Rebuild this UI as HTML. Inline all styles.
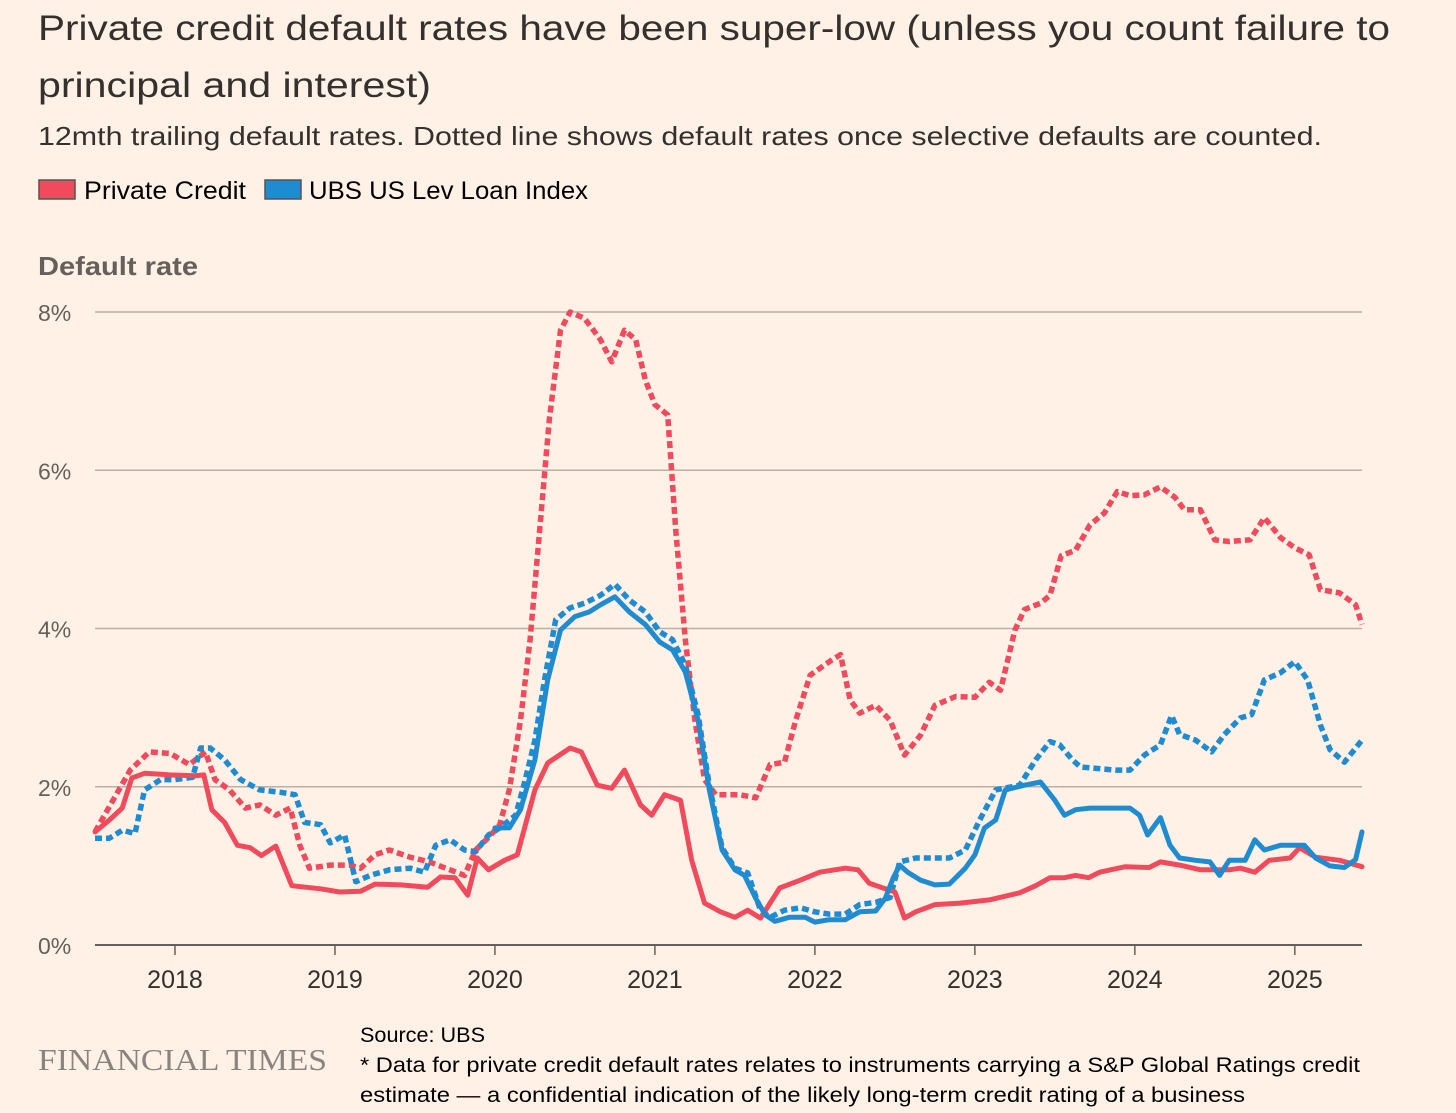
<!DOCTYPE html>
<html><head><meta charset="utf-8"><style>
body{margin:0;background:#fff1e5;width:1456px;height:1113px;overflow:hidden;font-family:"Liberation Sans",sans-serif;color:#33302e}
svg{position:absolute;left:0;top:0}
</style></head><body>
<svg width="1456" height="1113" id="svg">
<text x="38" y="40" font-size="35" fill="#33302e" textLength="1352" lengthAdjust="spacingAndGlyphs">Private credit default rates have been super-low (unless you count failure to</text>
<text x="38" y="97" font-size="35" fill="#33302e" textLength="393" lengthAdjust="spacingAndGlyphs">principal and interest)</text>
<text x="38" y="145" font-size="26" fill="#33302e" textLength="1284" lengthAdjust="spacingAndGlyphs">12mth trailing default rates. Dotted line shows default rates once selective defaults are counted.</text>
<g>
<rect x="39" y="180" width="36" height="19" fill="#f04a5c" stroke="#555" stroke-width="1.5"/>
<text x="84" y="199" font-size="25" textLength="162" lengthAdjust="spacingAndGlyphs">Private Credit</text>
<rect x="265" y="180" width="36" height="19" fill="#1f8bd0" stroke="#555" stroke-width="1.5"/>
<text x="309" y="199" font-size="25" textLength="279" lengthAdjust="spacingAndGlyphs">UBS US Lev Loan Index</text>
</g>
<text x="38" y="275" font-size="26" font-weight="bold" fill="#66605c" textLength="160" lengthAdjust="spacingAndGlyphs">Default rate</text>
<g id="grid"></g><g id="series"></g>
<g>
<text x="360" y="1042" font-size="21" textLength="125" lengthAdjust="spacingAndGlyphs">Source: UBS</text>
<text x="360" y="1072" font-size="21" textLength="1000" lengthAdjust="spacingAndGlyphs">* Data for private credit default rates relates to instruments carrying a S&amp;P Global Ratings credit</text>
<text x="360" y="1102" font-size="21" textLength="885" lengthAdjust="spacingAndGlyphs">estimate — a confidential indication of the likely long-term credit rating of a business</text>
</g>
<text x="38" y="1070" font-size="31" font-family="Liberation Serif,serif" fill="#8a8480" textLength="289" lengthAdjust="spacingAndGlyphs">FINANCIAL TIMES</text>
</svg>
<script>
const yTicks=[0,2,4,6,8];
const xTicks=[2018,2019,2020,2021,2022,2023,2024,2025];
const pcDates=[2017.50,2017.59,2017.67,2017.73,2017.81,2017.97,2018.13,2018.18,2018.23,2018.31,2018.39,2018.47,2018.54,2018.63,2018.73,2018.91,2019.03,2019.16,2019.25,2019.41,2019.58,2019.66,2019.75,2019.83,2019.89,2019.96,2020.06,2020.14,2020.25,2020.33,2020.47,2020.54,2020.64,2020.73,2020.81,2020.91,2020.98,2021.06,2021.16,2021.23,2021.31,2021.41,2021.50,2021.58,2021.66,2021.78,2021.91,2022.03,2022.19,2022.27,2022.34,2022.50,2022.56,2022.63,2022.75,2022.91,2023.09,2023.28,2023.38,2023.47,2023.56,2023.63,2023.71,2023.78,2023.94,2024.09,2024.16,2024.28,2024.41,2024.59,2024.66,2024.75,2024.84,2024.97,2025.03,2025.13,2025.28,2025.42];
const pcValues=[1.43,1.58,1.73,2.11,2.17,2.15,2.14,2.15,1.71,1.55,1.26,1.23,1.13,1.25,0.75,0.71,0.67,0.68,0.77,0.76,0.73,0.86,0.85,0.63,1.10,0.95,1.07,1.14,1.96,2.30,2.49,2.44,2.02,1.98,2.21,1.77,1.64,1.90,1.83,1.07,0.53,0.42,0.35,0.44,0.34,0.72,0.82,0.92,0.97,0.95,0.78,0.67,0.34,0.42,0.51,0.53,0.57,0.66,0.75,0.85,0.85,0.88,0.85,0.92,0.99,0.98,1.05,1.01,0.95,0.95,0.97,0.92,1.07,1.10,1.23,1.11,1.07,0.99];
const pcSelDates=[2017.50,2017.72,2017.84,2017.97,2018.09,2018.19,2018.25,2018.34,2018.44,2018.53,2018.63,2018.72,2018.78,2018.84,2018.97,2019.09,2019.16,2019.25,2019.34,2019.47,2019.59,2019.72,2019.81,2019.88,2019.97,2020.03,2020.09,2020.16,2020.22,2020.28,2020.34,2020.41,2020.47,2020.56,2020.66,2020.73,2020.81,2020.88,2020.94,2021.00,2021.08,2021.13,2021.19,2021.25,2021.31,2021.38,2021.53,2021.63,2021.72,2021.81,2021.88,2021.97,2022.09,2022.16,2022.22,2022.28,2022.38,2022.47,2022.56,2022.66,2022.75,2022.88,2023.00,2023.09,2023.16,2023.25,2023.31,2023.41,2023.47,2023.54,2023.63,2023.72,2023.81,2023.89,2023.97,2024.06,2024.16,2024.25,2024.31,2024.41,2024.50,2024.59,2024.72,2024.81,2024.91,2025.00,2025.09,2025.16,2025.28,2025.38,2025.42];
const pcSelValues=[1.43,2.21,2.44,2.42,2.28,2.44,2.09,1.96,1.73,1.77,1.64,1.73,1.26,0.97,1.01,1.01,0.97,1.14,1.20,1.11,1.05,0.95,0.88,1.20,1.38,1.52,1.96,2.84,3.86,5.25,6.64,7.77,8.0,7.92,7.65,7.37,7.77,7.65,7.14,6.83,6.70,5.25,3.86,2.84,2.09,1.90,1.90,1.86,2.28,2.31,2.84,3.41,3.58,3.67,3.10,2.93,3.03,2.84,2.40,2.65,3.03,3.14,3.13,3.32,3.22,3.98,4.24,4.32,4.42,4.92,4.99,5.31,5.46,5.73,5.68,5.69,5.79,5.66,5.50,5.50,5.12,5.10,5.12,5.40,5.15,5.02,4.93,4.49,4.45,4.30,4.05];
const ubsDates=[2020.00,2020.09,2020.16,2020.25,2020.33,2020.41,2020.50,2020.59,2020.66,2020.75,2020.84,2020.94,2021.03,2021.11,2021.19,2021.27,2021.34,2021.42,2021.50,2021.56,2021.63,2021.69,2021.75,2021.84,2021.94,2022.00,2022.09,2022.19,2022.28,2022.38,2022.44,2022.49,2022.53,2022.58,2022.66,2022.75,2022.84,2022.94,2023.00,2023.06,2023.13,2023.19,2023.31,2023.41,2023.50,2023.56,2023.63,2023.72,2023.97,2024.03,2024.08,2024.16,2024.22,2024.28,2024.38,2024.47,2024.53,2024.59,2024.69,2024.75,2024.81,2024.91,2025.06,2025.13,2025.22,2025.31,2025.38,2025.42];
const ubsValues=[1.48,1.48,1.71,2.34,3.35,3.98,4.15,4.21,4.30,4.40,4.21,4.05,3.83,3.73,3.45,2.84,1.96,1.20,0.95,0.88,0.59,0.38,0.30,0.35,0.35,0.29,0.32,0.32,0.42,0.43,0.59,0.85,1.01,0.92,0.82,0.76,0.77,0.97,1.14,1.48,1.58,1.96,2.02,2.06,1.83,1.64,1.71,1.73,1.73,1.64,1.39,1.61,1.26,1.10,1.07,1.05,0.88,1.07,1.07,1.33,1.20,1.26,1.26,1.10,1.00,0.98,1.08,1.43];
const ubsSelDates=[2017.50,2017.59,2017.67,2017.75,2017.81,2017.91,2018.00,2018.11,2018.16,2018.22,2018.31,2018.41,2018.53,2018.66,2018.75,2018.81,2018.91,2018.97,2019.06,2019.13,2019.22,2019.34,2019.47,2019.56,2019.63,2019.72,2019.81,2019.88,2019.96,2020.03,2020.13,2020.19,2020.25,2020.31,2020.38,2020.47,2020.56,2020.66,2020.75,2020.84,2020.94,2021.03,2021.11,2021.19,2021.27,2021.34,2021.42,2021.50,2021.58,2021.66,2021.72,2021.81,2021.91,2022.00,2022.09,2022.19,2022.28,2022.38,2022.47,2022.53,2022.63,2022.84,2022.94,2023.03,2023.13,2023.28,2023.38,2023.47,2023.53,2023.61,2023.66,2023.88,2023.97,2024.06,2024.16,2024.23,2024.28,2024.38,2024.48,2024.56,2024.66,2024.73,2024.81,2024.91,2025.00,2025.08,2025.16,2025.22,2025.31,2025.42];
const ubsSelValues=[1.35,1.35,1.45,1.41,1.96,2.09,2.09,2.12,2.49,2.49,2.34,2.09,1.96,1.93,1.90,1.55,1.52,1.29,1.39,0.80,0.88,0.95,0.97,0.92,1.26,1.33,1.20,1.18,1.39,1.48,1.64,2.09,2.59,3.35,4.11,4.26,4.32,4.42,4.56,4.36,4.21,3.96,3.86,3.54,2.91,2.02,1.23,0.97,0.91,0.44,0.35,0.44,0.47,0.42,0.39,0.39,0.51,0.54,0.60,1.05,1.10,1.10,1.20,1.58,1.96,2.02,2.34,2.57,2.53,2.34,2.25,2.21,2.21,2.40,2.53,2.90,2.66,2.59,2.44,2.66,2.87,2.91,3.35,3.44,3.58,3.35,2.78,2.47,2.31,2.59];

const NS='http://www.w3.org/2000/svg';
const X0=95,X1=1362,T0=2017.5,T1=2025.42,Y0=945,YTOP=312;
const xs=t=>X0+(t-T0)/(T1-T0)*(X1-X0);
const ys=v=>Y0-v/8*(Y0-YTOP);
function mk(tag,at,parent){const e=document.createElementNS(NS,tag);for(const k in at)e.setAttribute(k,at[k]);parent.appendChild(e);return e;}
const grid=document.getElementById('grid');
yTicks.forEach(v=>{
  const l=mk('line',{x1:X0,x2:X1,y1:ys(v),y2:ys(v),stroke:v===0?'#66605c':'#b9b0a8','stroke-width':v===0?2:1.5},grid);
  
  
  const t=mk('text',{x:38,y:ys(v)+9,'font-size':23,fill:'#66605c'},grid);
  t.textContent=v+'%';
  
  
});
xTicks.forEach(y=>{
  const l=mk('line',{x1:xs(y),x2:xs(y),y1:Y0,y2:Y0+10,stroke:'#66605c','stroke-width':1.5},grid);
  
  
  const t=mk('text',{x:xs(y),y:988,'font-size':25,fill:'#33302e','text-anchor':'middle'},grid);
  t.textContent=y;
  
  
});
const ser=document.getElementById('series');
function line(d,v,color,dashed,name){
  const pts=d.map((t,i)=>xs(t).toFixed(1)+','+ys(v[i]).toFixed(1)).join(' ');
  const p=mk('polyline',{points:pts,fill:'none',stroke:color,'stroke-width':dashed?5.5:5,'stroke-linejoin':'round','stroke-linecap':dashed?'butt':'round'},ser);
  if(dashed){p.setAttribute('stroke-dasharray','7,4');}
  
  
}
line(pcSelDates,pcSelValues,'#f04a5c',true,'private-credit-selective-line');
line(ubsSelDates,ubsSelValues,'#1f8bd0',true,'ubs-selective-line');
line(pcDates,pcValues,'#f04a5c',false,'private-credit-line');
line(ubsDates,ubsValues,'#1f8bd0',false,'ubs-line');
</script>
</body></html>
